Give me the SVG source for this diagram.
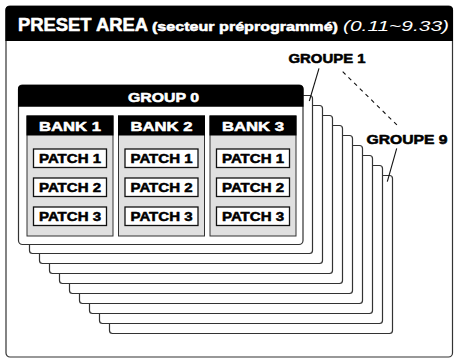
<svg xmlns="http://www.w3.org/2000/svg" width="456" height="362" viewBox="0 0 456 362">
<defs>
<style>
.frame{fill:#fff;stroke:#333;stroke-width:1.2}
.card{fill:#fff;stroke:#333;stroke-width:1.2}
.hdr{fill:#000}
.bank{fill:#e0e0e0;stroke:#333;stroke-width:1}
.patch{fill:#fff;stroke:#111;stroke-width:1.3}
.t{font-family:"Liberation Sans",Arial,sans-serif;font-weight:bold;stroke-width:0.55;stroke-linejoin:round}
.w{fill:#fff;stroke:#fff}
.b{fill:#000;stroke:#000}
.lead{stroke:#111;stroke-width:1.1;fill:none}
</style>
</defs>

<g id="preset-area">
<rect class="frame" x="6" y="6" width="446.5" height="351" rx="4"/>
<path class="hdr" d="M5.4,41 V10 a4,4 0 0 1 4,-4 H449 a4,4 0 0 1 4,4 V41 Z"/>
<text class="t w" x="18" y="30.7" font-size="17.5" textLength="130" lengthAdjust="spacingAndGlyphs">PRESET AREA</text>
<text class="t w" x="152" y="30.5" font-size="13.5" textLength="186" lengthAdjust="spacingAndGlyphs">(secteur préprogrammé)</text>
<text x="343" y="31" font-family="'Liberation Sans',Arial,sans-serif" font-style="italic" font-size="15" fill="#fff" textLength="106" lengthAdjust="spacingAndGlyphs">(0.11~9.33)</text>
</g>

<g id="groups-back">
<rect id="group9" class="card" x="109.5" y="175.5" width="283" height="158" rx="3"/>
<rect id="group8" class="card" x="99.5" y="165.5" width="283" height="158" rx="3"/>
<rect id="group7" class="card" x="89.5" y="155.5" width="283" height="158" rx="3"/>
<rect id="group6" class="card" x="79.5" y="145.5" width="283" height="158" rx="3"/>
<rect id="group5" class="card" x="69.5" y="135.5" width="283" height="158" rx="3"/>
<rect id="group4" class="card" x="59.5" y="125.5" width="283" height="158" rx="3"/>
<rect id="group3" class="card" x="49.5" y="115.5" width="283" height="158" rx="3"/>
<rect id="group2" class="card" x="39.5" y="105.5" width="283" height="158" rx="3"/>
<rect id="group1" class="card" x="29.5" y="95.5" width="283" height="158" rx="3"/>
</g>

<g id="group0">
<rect class="card" x="18.5" y="85" width="284.5" height="159.5" rx="4"/>
<path class="hdr" d="M18,106.7 V89 a4,4 0 0 1 4,-4 H299.5 a4,4 0 0 1 4,4 V106.7 Z"/>
<text class="t w" x="163.5" y="101.7" font-size="13" text-anchor="middle" textLength="71" lengthAdjust="spacingAndGlyphs">GROUP 0</text>
</g>

<g id="bank1">
<rect class="bank" x="27" y="116" width="86" height="120"/>
<rect class="hdr" x="26.5" y="115.5" width="87" height="20"/>
<text class="t w" x="70" y="131" font-size="13.5" text-anchor="middle" textLength="62" lengthAdjust="spacingAndGlyphs">BANK 1</text>
</g>
<g id="bank2">
<rect class="bank" x="118.5" y="116" width="86" height="120"/>
<rect class="hdr" x="118" y="115.5" width="87" height="20"/>
<text class="t w" x="161.5" y="131" font-size="13.5" text-anchor="middle" textLength="62" lengthAdjust="spacingAndGlyphs">BANK 2</text>
</g>
<g id="bank3">
<rect class="bank" x="210" y="116" width="86" height="120"/>
<rect class="hdr" x="209.5" y="115.5" width="87" height="20"/>
<text class="t w" x="253" y="131" font-size="13.5" text-anchor="middle" textLength="62" lengthAdjust="spacingAndGlyphs">BANK 3</text>
</g>

<g id="b1p1"><rect class="patch" x="33.5" y="149" width="73" height="18.5"/><text class="t b" x="70" y="163.3" font-size="13.5" text-anchor="middle" textLength="62" lengthAdjust="spacingAndGlyphs">PATCH 1</text></g>
<g id="b1p2"><rect class="patch" x="33.5" y="178" width="73" height="18.5"/><text class="t b" x="70" y="192.3" font-size="13.5" text-anchor="middle" textLength="62" lengthAdjust="spacingAndGlyphs">PATCH 2</text></g>
<g id="b1p3"><rect class="patch" x="33.5" y="207" width="73" height="18.5"/><text class="t b" x="70" y="221.3" font-size="13.5" text-anchor="middle" textLength="62" lengthAdjust="spacingAndGlyphs">PATCH 3</text></g>
<g id="b2p1"><rect class="patch" x="125" y="149" width="73" height="18.5"/><text class="t b" x="161.5" y="163.3" font-size="13.5" text-anchor="middle" textLength="62" lengthAdjust="spacingAndGlyphs">PATCH 1</text></g>
<g id="b2p2"><rect class="patch" x="125" y="178" width="73" height="18.5"/><text class="t b" x="161.5" y="192.3" font-size="13.5" text-anchor="middle" textLength="62" lengthAdjust="spacingAndGlyphs">PATCH 2</text></g>
<g id="b2p3"><rect class="patch" x="125" y="207" width="73" height="18.5"/><text class="t b" x="161.5" y="221.3" font-size="13.5" text-anchor="middle" textLength="62" lengthAdjust="spacingAndGlyphs">PATCH 3</text></g>
<g id="b3p1"><rect class="patch" x="216.5" y="149" width="73" height="18.5"/><text class="t b" x="253" y="163.3" font-size="13.5" text-anchor="middle" textLength="62" lengthAdjust="spacingAndGlyphs">PATCH 1</text></g>
<g id="b3p2"><rect class="patch" x="216.5" y="178" width="73" height="18.5"/><text class="t b" x="253" y="192.3" font-size="13.5" text-anchor="middle" textLength="62" lengthAdjust="spacingAndGlyphs">PATCH 2</text></g>
<g id="b3p3"><rect class="patch" x="216.5" y="207" width="73" height="18.5"/><text class="t b" x="253" y="221.3" font-size="13.5" text-anchor="middle" textLength="62" lengthAdjust="spacingAndGlyphs">PATCH 3</text></g>

<g id="label-groupe1">
<text class="t b" x="288.5" y="62.7" font-size="13" textLength="77" lengthAdjust="spacingAndGlyphs">GROUPE 1</text>
</g>
<g id="label-groupe9">
<text class="t b" x="366.5" y="144.3" font-size="13" textLength="81" lengthAdjust="spacingAndGlyphs">GROUPE 9</text>
</g>

<g id="connectors">
<line class="lead" x1="319" y1="68.3" x2="309.3" y2="101"/>
<line class="lead" x1="396.7" y1="148.3" x2="387.3" y2="181.7"/>
<line class="lead" x1="342.7" y1="71.7" x2="399.3" y2="127.3" stroke-dasharray="4,4"/>
</g>
</svg>
